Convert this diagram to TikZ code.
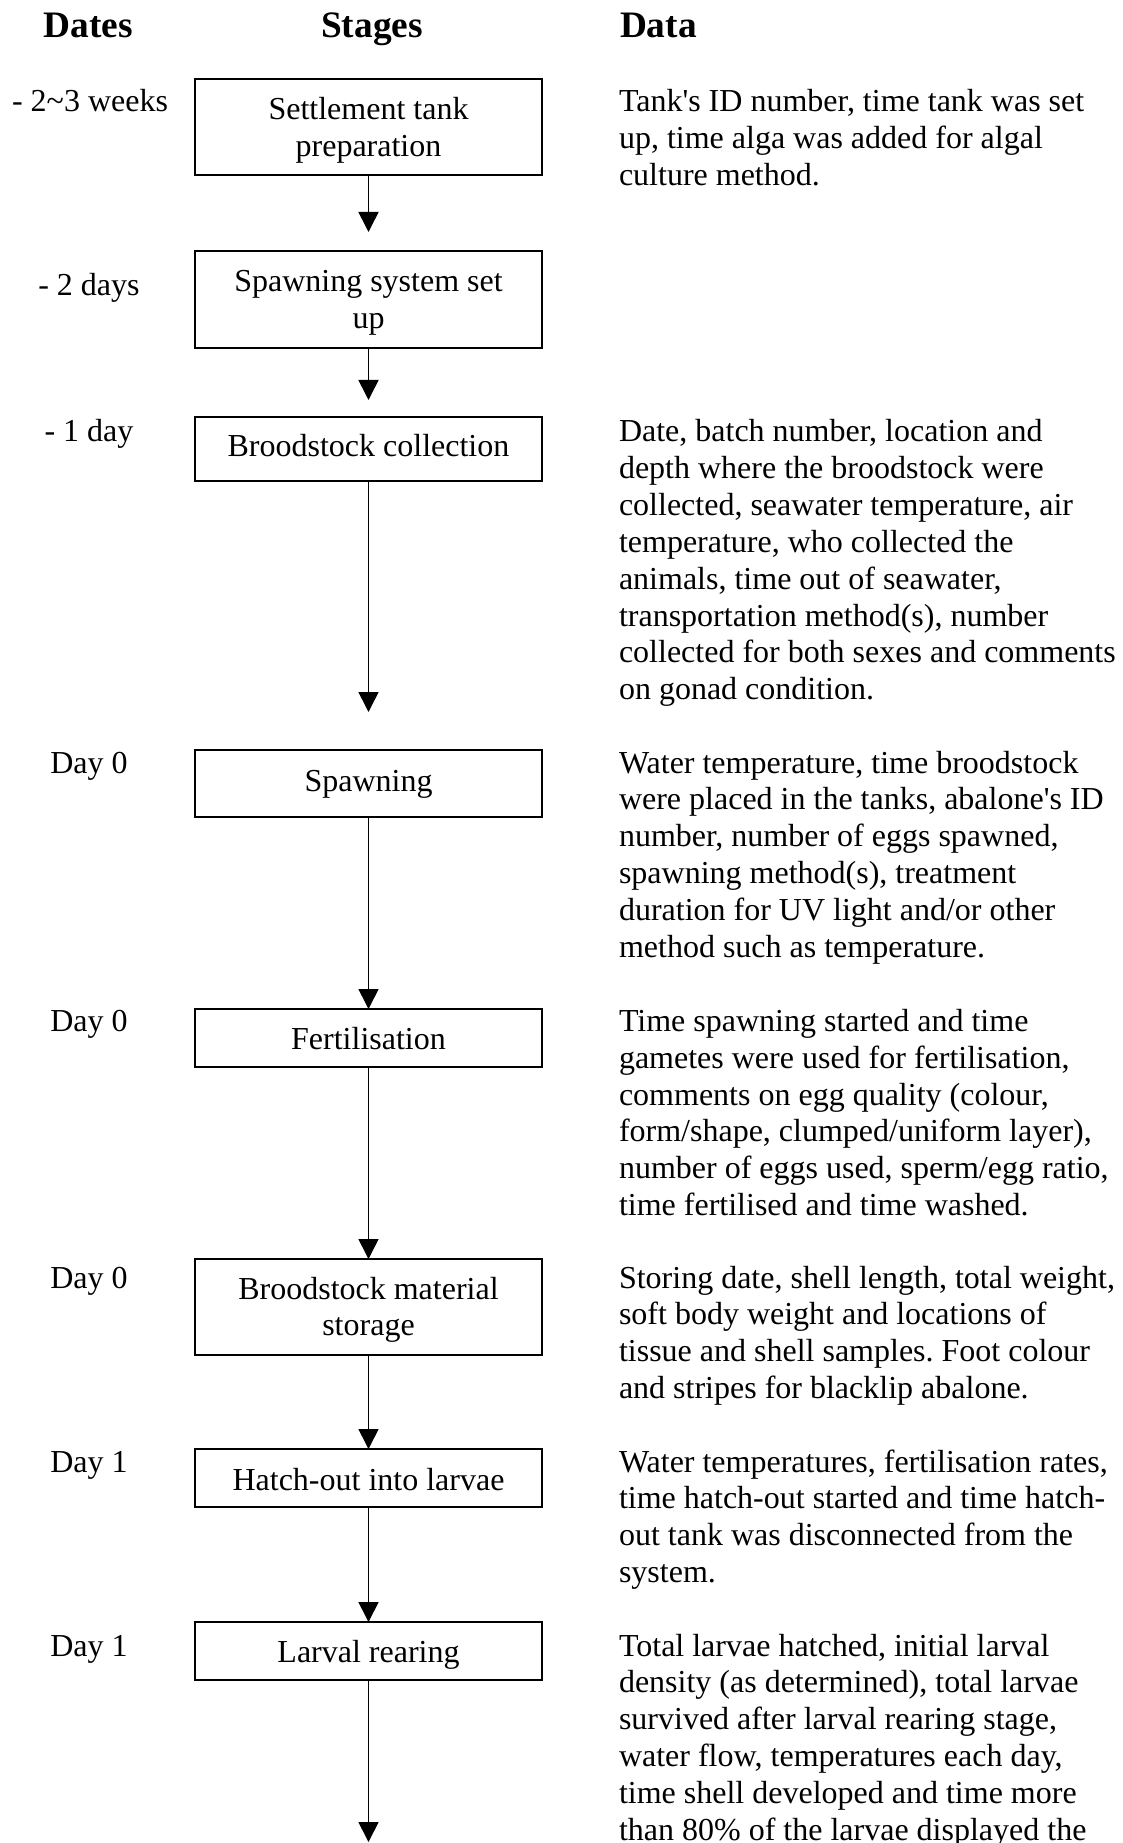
\documentclass[tikz,border=0pt]{standalone}
\usepackage{fontspec}
\setmainfont{Liberation Serif}[Ligatures=TeXOff]
\usetikzlibrary{arrows.meta}

\begin{document}
\frenchspacing
\begin{tikzpicture}[x=0.375pt, y=-0.375pt,
  every node/.style={inner sep=0pt, outer sep=0pt},
  header/.style={font=\fontsize{14}{16}\selectfont\bfseries},
  plain/.style={font=\fontsize{12}{13.8}\selectfont},
  datetext/.style={plain, anchor=base},
  stagetext/.style={plain, anchor=base, text width=347*0.375pt, align=flush center},
  datatext/.style={plain, anchor=base west, text width=600*0.375pt, align=flush left},
  stagebox/.style={draw, line width=0.85pt, minimum width=347*0.375pt, anchor=north},
  flow/.style={line width=0.6pt, -{Triangle[width=7.5pt,length=7.5pt]}}]

\useasboundingbox (0,0) rectangle (1122,1843);

% column headings
\node[header, anchor=base] (hdates) at (88,37.5) {Dates};
\node[header, anchor=base] (hstages) at (372,37.5) {Stages};
\node[header, anchor=base west] (hdata) at (620,37.5) {Data};

% stage boxes
\node[stagebox, minimum height=96*0.375pt] (b1) at (368.5,79) {};
\node[stagebox, minimum height=97*0.375pt] (b2) at (368.5,251) {};
\node[stagebox, minimum height=64*0.375pt] (b3) at (368.5,417) {};
\node[stagebox, minimum height=67*0.375pt] (b4) at (368.5,750) {};
\node[stagebox, minimum height=58*0.375pt] (b5) at (368.5,1009) {};
\node[stagebox, minimum height=96*0.375pt] (b6) at (368.5,1259) {};
\node[stagebox, minimum height=58*0.375pt] (b7) at (368.5,1449) {};
\node[stagebox, minimum height=58*0.375pt] (b8) at (368.5,1622) {};

% stage names
\node[stagetext] (s1) at (368.5,119.5) {Settlement tank\\preparation};
\node[stagetext] (s2) at (368.5,291.5) {Spawning system set\\up};
\node[stagetext] (s3) at (368.5,456.5) {Broodstock collection};
\node[stagetext] (s4) at (368.5,791) {Spawning};
\node[stagetext] (s5) at (368.5,1049) {Fertilisation};
\node[stagetext] (s6) at (368.5,1299) {Broodstock material\\storage};
\node[stagetext] (s7) at (368.5,1490) {Hatch-out into larvae};
\node[stagetext] (s8) at (368.5,1662.5) {Larval rearing};

% dates
\node[datetext] (d1) at (90,111.5) {- 2\char`~3 weeks};
\node[datetext] (d2) at (89,296) {- 2 days};
\node[datetext] (d3) at (89,442) {- 1 day};
\node[datetext] (d4) at (89,773) {Day 0};
\node[datetext] (d5) at (89,1031.5) {Day 0};
\node[datetext] (d6) at (89,1288) {Day 0};
\node[datetext] (d7) at (89,1472) {Day 1};
\node[datetext] (d8) at (89,1656) {Day 1};

% recorded data
\node[datatext] (t1) at (619,111.5) {Tank's ID number, time tank was set\\up, time alga was added for algal\\culture method.};
\node[datatext] (t3) at (619,442) {Date, batch number, location and\\depth where the broodstock were\\collected, seawater temperature, air\\temperature, who collected the\\animals, time out of seawater,\\transportation method(s), number\\collected for both sexes and comments\\on gonad condition.};
\node[datatext] (t4) at (619,773) {Water temperature, time broodstock\\were placed in the tanks, abalone's ID\\number, number of eggs spawned,\\spawning method(s), treatment\\duration for UV light and/or other\\method such as temperature.};
\node[datatext] (t5) at (619,1031.5) {Time spawning started and time\\gametes were used for fertilisation,\\comments on egg quality (colour,\\form/shape, clumped/uniform layer),\\number of eggs used, sperm/egg ratio,\\time fertilised and time washed.};
\node[datatext] (t6) at (619,1288) {Storing date, shell length, total weight,\\soft body weight and locations of\\tissue and shell samples. Foot colour\\and stripes for blacklip abalone.};
\node[datatext] (t7) at (619,1472) {Water temperatures, fertilisation rates,\\time hatch-out started and time hatch-\\out tank was disconnected from the\\system.};
\node[datatext] (t8) at (619,1656) {Total larvae hatched, initial larval\\density (as determined), total larvae\\survived after larval rearing stage,\\water flow, temperatures each day,\\time shell developed and time more\\than 80\% of the larvae displayed the};

% arrow ends that stop short of the next box
\coordinate (e1) at (368.5,232);
\coordinate (e2) at (368.5,400);
\coordinate (e3) at (368.5,712);
\coordinate (e8) at (368.5,1842);

% flow arrows
\draw[flow] (b1.south) -- (e1);
\draw[flow] (b2.south) -- (e2);
\draw[flow] (b3.south) -- (e3);
\draw[flow] (b4.south) -- (b5.north);
\draw[flow] (b5.south) -- (b6.north);
\draw[flow] (b6.south) -- (b7.north);
\draw[flow] (b7.south) -- (b8.north);
\draw[flow] (b8.south) -- (e8);
\end{tikzpicture}
\end{document}
